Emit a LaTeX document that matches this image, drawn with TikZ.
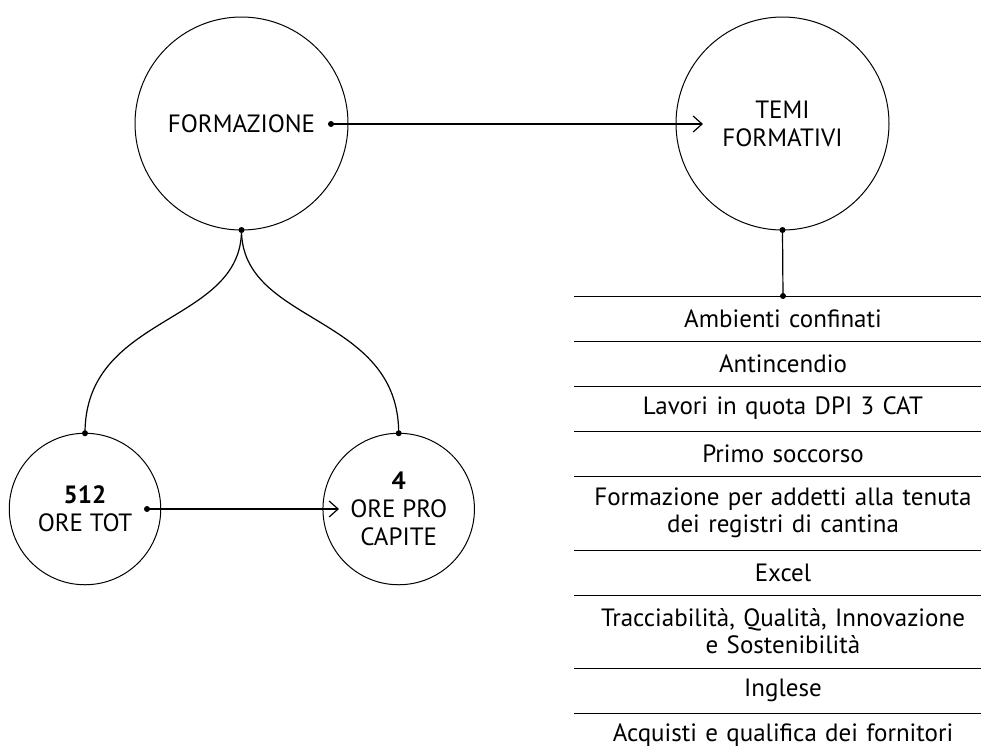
\documentclass[tikz,border=0pt]{standalone}
\usepackage{fontspec}
\setmainfont{PT Sans}
\usepackage{tikz}
\usetikzlibrary{positioning}
\usetikzlibrary{arrows.meta}
\tikzstyle{line} = [draw, line width=0.6pt, color=black, -{Straight Barb[length=4.5pt,width=8pt]}]
\tikzstyle{link} = [draw, line width=0.6pt, color=black]

\begin{document}
\begin{tikzpicture}[x=0.5pt,y=-0.5pt,outer sep=0pt,
bigc/.style={
  circle,
  draw,
  line width=0.5pt,
  minimum size=106.5pt,
  inner sep=0pt,
  align=center,
  font={\fontsize{12.5}{14}\selectfont}},
smallc/.style={bigc,minimum size=75.75pt},
dot/.style={circle, fill=black, inner sep=0pt, minimum size=3pt},
tema/.style={
  text width=209pt,
  minimum height=22.5pt,
  inner sep=0pt,
  align=center,
  font={\fontsize{12.5}{13.5}\selectfont}},
tema2/.style={tema, minimum height=37pt},
]
\useasboundingbox (0,0) rectangle (981,752);

\node[bigc] (forma) at (241.5,123.5) {FORMAZIONE};
\node[bigc] (temi) at (782.5,123.5) {TEMI\\FORMATIVI};
\node[smallc] (tot) at (85,509) {\textbf{512}\\ORE TOT};
\node[smallc] (capite) at (398.7,509) {\textbf{4}\\ORE PRO\\CAPITE};

\node[dot] (fdot) at (331,124) {};
\node[dot] (fbot) at (forma.south) {};
\node[dot] (tbot) at (temi.south) {};
\node[dot] (totdot) at (147,509) {};
\node[dot] (tottop) at (tot.north) {};
\node[dot] (captop) at (capite.north) {};
\coordinate (temiin) at (703,124);
\coordinate (capin) at (339,509);

% temi formativi
\node[tema, anchor=north] (amb) at (783,296) {Ambienti confinati};
\node[tema, below=0pt of amb] (anti) {Antincendio};
\node[tema, below=0pt of anti] (lav) {Lavori in quota DPI 3 CAT};
\node[tema, below=0pt of lav] (primo) {Primo soccorso};
\node[tema2, below=0pt of primo] (reg) {Formazione per addetti alla tenuta\\dei registri di cantina};
\node[tema, below=0pt of reg] (exc) {Excel};
\node[tema2, minimum height=36.5pt, below=0pt of exc] (trac) {Tracciabilità, Qualità, Innovazione\\e Sostenibilità};
\node[tema, below=0pt of trac] (ing) {Inglese};
\node[tema, below=0pt of ing] (acq) {Acquisti e qualifica dei fornitori};
\node[dot] (ambdot) at (amb.north) {};

\foreach \n in {amb,anti,lav,primo,reg,exc,trac,ing,acq}
  \draw[line width=0.5pt] (\n.north west) -- (\n.north east);

\path [line] (fdot.center) -- (temiin);
\path [line] (totdot.center) -- (capin);
\path [link] (tbot.center) -- (ambdot.center);
\path [link] (fbot.center) .. controls +(0,95) and +(0,-120) .. (tottop.center);
\path [link] (fbot.center) .. controls +(0,95) and +(0,-120) .. (captop.center);
\end{tikzpicture}
\end{document}
